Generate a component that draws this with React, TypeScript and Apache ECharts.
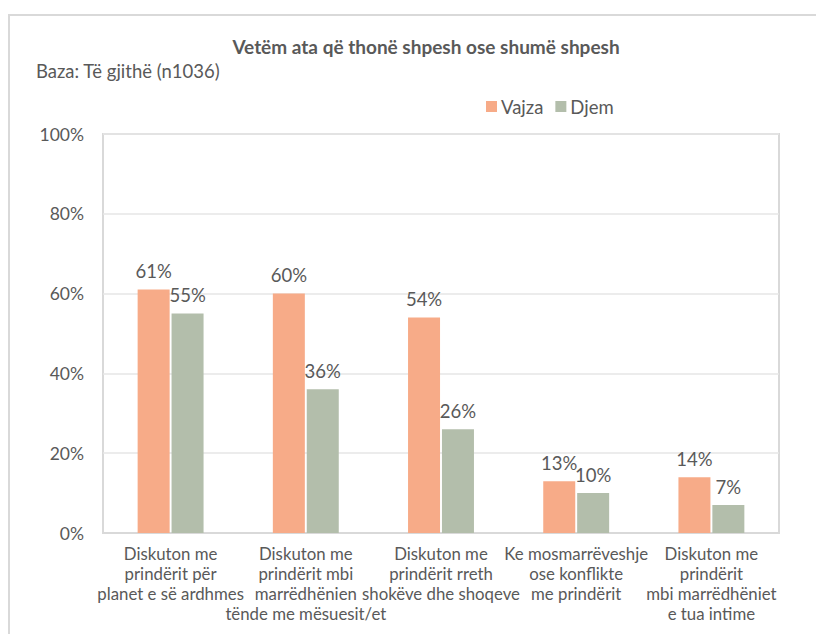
import React, { useEffect, useRef } from "react";
import * as echarts from "echarts";

const categories = [
  "Diskuton me\nprindërit për\nplanet e së ardhmes",
  "Diskuton me\nprindërit mbi\nmarrëdhënien\ntënde me mësuesit/et",
  "Diskuton me\nprindërit rreth\nshokëve dhe shoqeve",
  "Ke mosmarrëveshje\nose konflikte\nme prindërit",
  "Diskuton me\nprindërit\nmbi marrëdhëniet\ne tua intime",
];
const vajza = [61, 60, 54, 13, 14];
const djem = [55, 36, 26, 10, 7];
const yTicks = [0, 20, 40, 60, 80, 100];

const FONT = "Lato";
const TXT = "#595959";

export default function App() {
  const ref = useRef<HTMLDivElement>(null);
  useEffect(() => {
    const chart = echarts.init(ref.current!, null, { renderer: "svg" });
    const label = {
      show: true,
      position: "top" as const,
      distance: 9,
      color: TXT,
      fontFamily: FONT,
      fontSize: 18.5,
      formatter: (p: any) => p.value + "%",
    };
    chart.setOption({
      animation: false,
      textStyle: { fontFamily: FONT },
      graphic: [
        {
          type: "rect",
          shape: { x: 9, y: 15, width: 820, height: 640 },
          style: { fill: "none", stroke: "#d9d9d9", lineWidth: 2 },
          silent: true,
        },
        {
          type: "text",
          left: 36,
          top: 61,
          style: { text: "Baza: Të gjithë (n1036)", fill: TXT, font: `18.5px ${FONT}` },
        },
      ],
      title: {
        text: "Vetëm ata që thonë shpesh ose shumë shpesh",
        left: 421,
        textAlign: "center",
        top: 32,
        textStyle: { color: TXT, fontFamily: FONT, fontSize: 19, fontWeight: "bold" },
      },
      legend: {
        data: ["Vajza", "Djem"],
        left: 481,
        top: 92,
        itemWidth: 11,
        itemHeight: 11,
        itemGap: 12,
        icon: "rect",
        textStyle: { color: TXT, fontFamily: FONT, fontSize: 18.5, padding: [0, 0, 0, -1] },
      },
      grid: {
        left: 103,
        right: 37,
        top: 134,
        bottom: 101,
        show: true,
        borderColor: "#d9d9d9",
        borderWidth: 2,
      },
      xAxis: {
        type: "category",
        data: categories,
        axisLine: { show: true, lineStyle: { color: "#d9d9d9", width: 2 } },
        axisTick: { show: false },
        axisLabel: {
          interval: 0,
          color: TXT,
          fontFamily: FONT,
          fontSize: 16.8,
          lineHeight: 20,
          margin: 10,
        },
      },
      yAxis: {
        type: "value",
        min: 0,
        max: 100,
        interval: 20,
        axisLine: { show: false },
        axisTick: { show: false },
        splitLine: { lineStyle: { color: "#e6e6e6", width: 1.5 } },
        axisLabel: {
          color: TXT,
          fontFamily: FONT,
          fontSize: 17.5,
          margin: 19,
          formatter: (v: number) => (yTicks.includes(v) ? v + "%" : ""),
        },
      },
      series: [
        {
          name: "Vajza",
          type: "bar",
          data: vajza,
          barWidth: 32,
          barGap: "6%",
          itemStyle: { color: "#F7AB88" },
          label,
        },
        {
          name: "Djem",
          type: "bar",
          data: djem,
          barWidth: 32,
          itemStyle: { color: "#B3BEAB" },
          label,
        },
      ],
    });
    return () => chart.dispose();
  }, []);
  return (
    <div
      ref={ref}
      style={{ position: "fixed", left: 0, top: 0, width: 816, height: 634, background: "#fff" }}
    />
  );
}
